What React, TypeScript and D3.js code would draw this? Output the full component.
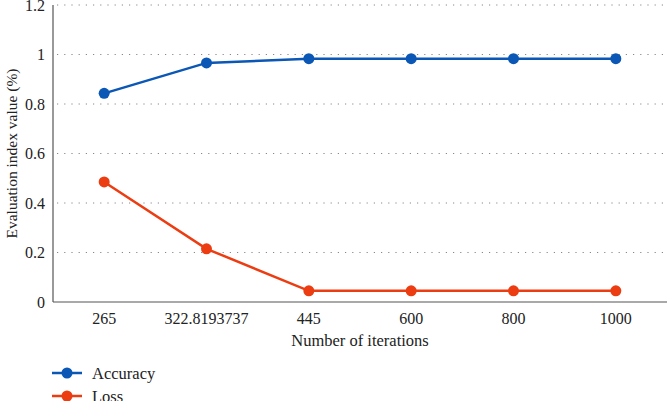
import React, { useRef, useEffect } from 'react';
import * as d3 from 'd3';

const categories = ['265', '322.8193737', '445', '600', '800', '1000'];
const accuracy = [0.843, 0.966, 0.983, 0.983, 0.983, 0.983];
const loss = [0.485, 0.215, 0.045, 0.045, 0.045, 0.045];
const yTicks = [0, 0.2, 0.4, 0.6, 0.8, 1, 1.2];

const BLUE = '#0a57b5';
const RED = '#ec3d12';
const FONT = '"Liberation Serif", "DejaVu Serif", serif';

const App = () => {
    const svgRef = useRef<SVGSVGElement>(null);

    useEffect(() => {
        const svg = d3.select(svgRef.current);
        svg.selectAll('*').remove();

        const width = 667;
        const height = 401;
        const margin = { top: 5, right: 0, bottom: 99, left: 53 };

        const x = d3.scaleBand()
            .domain(categories)
            .range([margin.left, width - margin.right]);

        const y = d3.scaleLinear()
            .domain([0, 1.2])
            .range([height - margin.bottom, margin.top]);

        // Gridlines
        svg.append('g')
            .selectAll('line')
            .data(yTicks.filter(d => d > 0))
            .join('line')
            .attr('x1', margin.left + 4)
            .attr('x2', width - margin.right)
            .attr('y1', d => y(d))
            .attr('y2', d => y(d))
            .attr('stroke', '#888')
            .attr('stroke-width', 1)
            .attr('stroke-dasharray', '1.2,6');

        // Axes
        svg.append('line')
            .attr('x1', margin.left).attr('x2', margin.left)
            .attr('y1', y(1.2)).attr('y2', y(0))
            .attr('stroke', '#555').attr('stroke-width', 1.2);
        svg.append('line')
            .attr('x1', margin.left).attr('x2', width - margin.right)
            .attr('y1', y(0)).attr('y2', y(0))
            .attr('stroke', '#555').attr('stroke-width', 1.2);

        svg.append('g')
            .selectAll('text')
            .data(yTicks)
            .join('text')
            .attr('x', margin.left - 8)
            .attr('y', d => y(d))
            .attr('dy', '0.35em')
            .attr('text-anchor', 'end')
            .attr('font-family', FONT)
            .attr('font-size', 16)
            .attr('fill', '#222')
            .text(d => String(d));

        svg.append('g')
            .selectAll('text')
            .data(categories)
            .join('text')
            .attr('x', d => (x(d) ?? 0) + x.bandwidth() / 2)
            .attr('y', y(0) + 22)
            .attr('text-anchor', 'middle')
            .attr('font-family', FONT)
            .attr('font-size', 16)
            .attr('fill', '#222')
            .text(d => d);

        svg.append('text')
            .attr('x', 360)
            .attr('y', 346)
            .attr('text-anchor', 'middle')
            .attr('font-family', FONT)
            .attr('font-size', 16.5)
            .attr('fill', '#222')
            .text('Number of iterations');

        svg.append('text')
            .attr('transform', `translate(17,${(y(0) + y(1.2)) / 2}) rotate(-90)`)
            .attr('text-anchor', 'middle')
            .attr('font-family', FONT)
            .attr('font-size', 15.5)
            .attr('fill', '#222')
            .text('Evaluation index value (%)');

        const series = [
            { name: 'Accuracy', values: accuracy, color: BLUE },
            { name: 'Loss', values: loss, color: RED },
        ];

        const line = d3.line<number>()
            .x((d, i) => (x(categories[i]) ?? 0) + x.bandwidth() / 2)
            .y(d => y(d));

        series.forEach(s => {
            svg.append('path')
                .datum(s.values)
                .attr('fill', 'none')
                .attr('stroke', s.color)
                .attr('stroke-width', 2.5)
                .attr('d', line);

            svg.append('g')
                .selectAll('circle')
                .data(s.values)
                .join('circle')
                .attr('cx', (d, i) => (x(categories[i]) ?? 0) + x.bandwidth() / 2)
                .attr('cy', d => y(d))
                .attr('r', 5.5)
                .attr('fill', s.color);
        });

        // Legend
        const legend = svg.append('g').attr('transform', 'translate(52,373)');
        series.forEach((s, i) => {
            const g = legend.append('g').attr('transform', `translate(0,${i * 23})`);
            g.append('line')
                .attr('x1', 0).attr('x2', 30)
                .attr('y1', 0).attr('y2', 0)
                .attr('stroke', s.color)
                .attr('stroke-width', 2.5);
            g.append('circle')
                .attr('cx', 15).attr('cy', 0)
                .attr('r', 5.5)
                .attr('fill', s.color);
            g.append('text')
                .attr('x', 40)
                .attr('y', 0)
                .attr('dy', '0.35em')
                .attr('font-family', FONT)
                .attr('font-size', 16.5)
                .attr('fill', '#222')
                .text(s.name);
        });
    }, []);

    return (
        <svg
            ref={svgRef}
            width={667}
            height={401}
            style={{ position: 'absolute', left: 0, top: 0, background: '#fff' }}
        />
    );
};

export default App;
